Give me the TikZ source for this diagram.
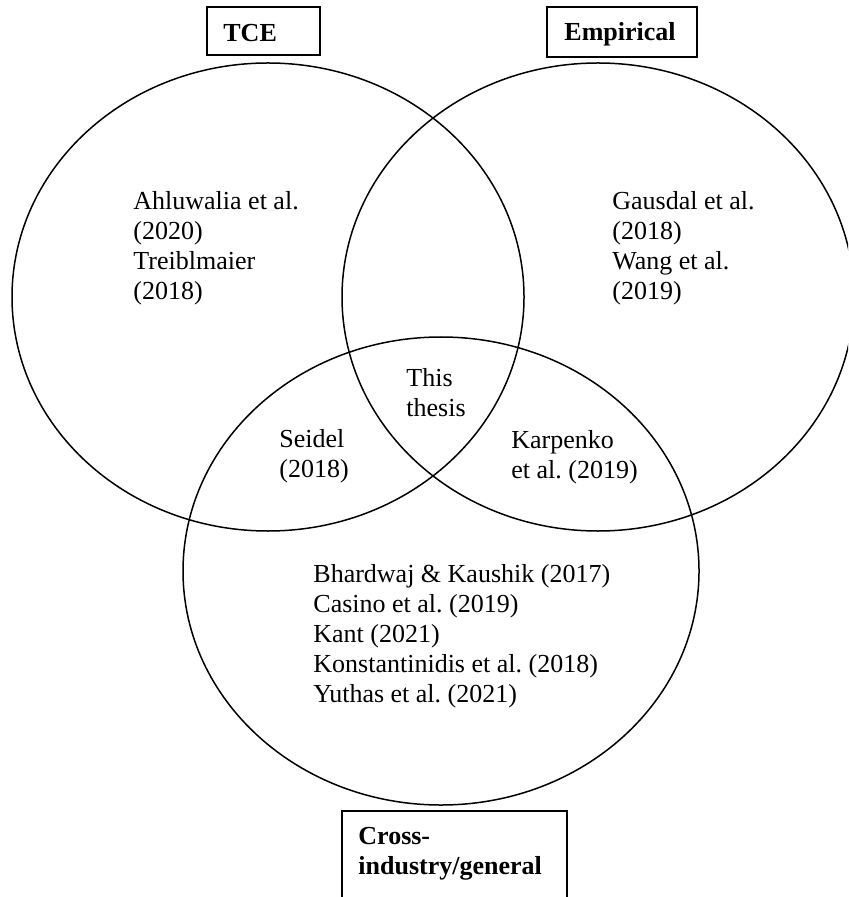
\documentclass[tikz,border=0pt]{standalone}
\usepackage{fontspec}
\setmainfont{Liberation Serif}
\frenchspacing
\begin{document}
\begin{tikzpicture}[x=0.5pt,y=-0.5pt,
  ring/.style={line width=0.75pt},
  labelbox/.style={draw,line width=0.75pt},
  % multi-line texts are placed by the baseline of their last line
  cite/.style={anchor=base west,align=left,inner sep=0pt,
    font=\fontsize{13pt}{15pt}\selectfont},
  head/.style={cite,font=\fontsize{13pt}{15pt}\selectfont\bfseries}]
\useasboundingbox (0,0) rectangle (848,897);
\clip (0,0) rectangle (848,897);

% centres of the three sets
\coordinate (tce) at (268,297);
\coordinate (emp) at (598,297);
\coordinate (gen) at (441,571);

\draw[ring] (tce) ellipse [x radius=256,y radius=234];
\draw[ring] (emp) ellipse [x radius=256,y radius=234];
\draw[ring] (gen) ellipse [x radius=258,y radius=234];

% set headings
\draw[labelbox] (207,7) rectangle (320,55);
\node[head] (tcehead) at (223,42) {TCE};
\draw[labelbox] (547,7) rectangle (697,57);
\node[head] (emphead) at (564,41) {Empirical};
\draw[labelbox] (342,811) rectangle (567,930);
\node[head] (genhead) at (358,874) {Cross-\\industry/general};

% references in each region
\node[cite] (tcerefs) at (133,300) {Ahluwalia et al.\\(2020)\\Treiblmaier\\(2018)};
\node[cite] (emprefs) at (612,300) {Gausdal et al.\\(2018)\\Wang et al.\\(2019)};
\node[cite] (centre) at (406,416) {This\\thesis};
\node[cite] (tcegen) at (279,477) {Seidel\\(2018)};
\node[cite] (empgen) at (511,478) {Karpenko\\et al. (2019)};
\node[cite] (genrefs) at (313,702) {Bhardwaj \& Kaushik (2017)\\Casino et al. (2019)\\Kant (2021)\\Konstantinidis et al. (2018)\\Yuthas et al. (2021)};
\end{tikzpicture}
\end{document}
